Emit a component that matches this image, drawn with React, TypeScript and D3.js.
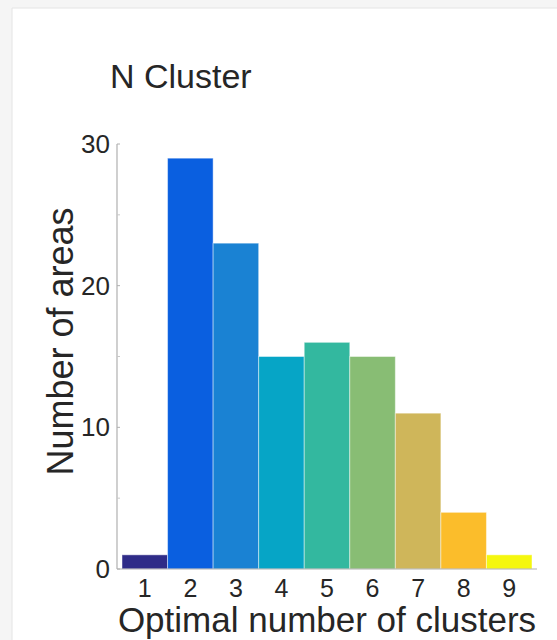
import React from "react";
import * as d3 from "d3";

const categories = [1, 2, 3, 4, 5, 6, 7, 8, 9];
const counts = [1, 29, 23, 15, 16, 15, 11, 4, 1];
const barColors = ["#2f2c88", "#0a5fe0", "#1a82d3", "#06a5c6", "#33b89f", "#88bd74", "#cfb65a", "#fbbd2b", "#f5f70f"];
const yTicks = [0, 10, 20, 30];
const yMinorTicks = [5, 15, 25];
const title = "N Cluster";
const xLabel = "Optimal number of clusters";
const yLabel = "Number of areas";

export default function App() {
  const W = 557, H = 640;
  const left = 117, right = 537, top = 144, bottom = 569;
  const x = d3.scaleLinear().domain([0.39, 9.61]).range([left, right]);
  const y = d3.scaleLinear().domain([0, 30]).range([bottom, top]);
  const bw = x(1.5) - x(0.5);
  const font = "'Liberation Sans', Arial, sans-serif";
  const txt = "#262626";
  return (
    <svg width={W} height={H} style={{ position: "absolute", left: 0, top: 0, background: "#fff" }}>
      <rect x={0} y={0} width={W} height={8} fill="#f5f5f5" />
      <rect x={0} y={0} width={12} height={H} fill="#f5f5f5" />
      <line x1={12} y1={8} x2={W} y2={8} stroke="#e4e4e4" />
      <line x1={12} y1={8} x2={12} y2={H} stroke="#e4e4e4" />
      <text x={110} y={88} fontFamily={font} fontSize={34} fill={txt}>{title}</text>
      {categories.map((c, i) => (
        <rect key={c} x={x(c) - bw / 2} y={y(counts[i])} width={bw} height={y(0) - y(counts[i])}
          fill={barColors[i]} stroke="#ffffff" strokeOpacity={0.45} strokeWidth={1} />
      ))}
      <line x1={left} y1={top} x2={left} y2={bottom} stroke="#b0b0b0" strokeWidth={1.2} />
      <line x1={left} y1={bottom} x2={right} y2={bottom} stroke="#b0b0b0" strokeWidth={1.2} />
      {yTicks.map(t => (
        <g key={t}>
          <line x1={left} x2={left + 3} y1={y(t)} y2={y(t)} stroke="#b0b0b0" />
          <text x={110} y={y(t)} dy="0.35em" textAnchor="end" fontFamily={font} fontSize={26} fill={txt}>{t}</text>
        </g>
      ))}
      {yMinorTicks.map(t => (
        <line key={t} x1={left} x2={left + 3} y1={y(t)} y2={y(t)} stroke="#c8c8c8" />
      ))}
      {categories.map(c => (
        <text key={c} x={x(c)} y={597} textAnchor="middle" fontFamily={font} fontSize={25} fill={txt}>{c}</text>
      ))}
      <text x={(left + right) / 2} y={632} textAnchor="middle" fontFamily={font} fontSize={35} fill={txt}>{xLabel}</text>
      <text transform={`translate(73, ${(203 + 480) / 2}) rotate(-90)`} textAnchor="middle" fontFamily={font} fontSize={36} fill={txt}>{yLabel}</text>
    </svg>
  );
}
